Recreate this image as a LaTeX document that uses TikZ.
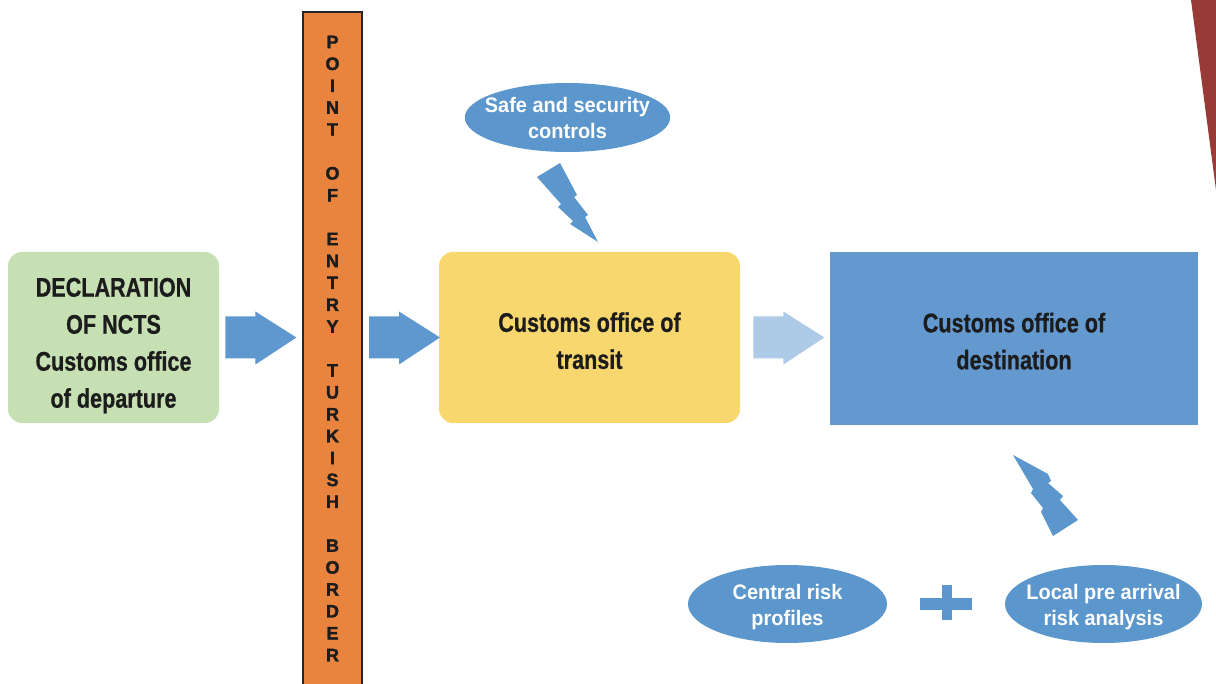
\documentclass[tikz,border=0pt]{standalone}
\usepackage{fontspec}
\newfontfamily\condfont[FakeStretch=0.8,FakeBold=0.6]{Liberation Sans}
\newfontfamily\ellfont[FakeStretch=0.95]{Liberation Sans}
\newfontfamily\barfont[FakeBold=1.8]{Liberation Sans}
\usetikzlibrary{shapes.geometric,calc}
\definecolor{boxgreen}{HTML}{C6E0B4}
\definecolor{boxyellow}{HTML}{F8D76E}
\definecolor{boxblue}{HTML}{6399CF}
\definecolor{ellblue}{HTML}{5B96CC}
\definecolor{arrowblue}{HTML}{5E98CE}
\definecolor{arrowlight}{HTML}{ADCBE7}
\definecolor{barorange}{HTML}{E9843F}
\definecolor{wedgered}{HTML}{983B36}
\definecolor{textdark}{HTML}{1C1C1C}
\begin{document}
\begin{tikzpicture}[x=0.5pt,y=-0.5pt,
  boxtext/.style={font=\condfont\bfseries\fontsize{13.5}{18.5}\selectfont, text=textdark, align=center, inner sep=0pt},
  greenbox/.style={boxtext, fill=boxgreen, rounded corners=7pt, minimum width=105.5pt, minimum height=85.5pt},
  yellowbox/.style={boxtext, fill=boxyellow, rounded corners=7pt, minimum width=150.5pt, minimum height=85.5pt},
  bluebox/.style={boxtext, fill=boxblue, minimum width=184pt, minimum height=86.5pt},
  ell/.style={ellipse, fill=ellblue, text=white, font=\ellfont\bfseries\fontsize{10.5}{13}\selectfont, align=center, inner xsep=-5pt, inner ysep=0pt},
  barstyle/.style={fill=barorange, draw=black!85, line width=1pt, minimum width=29.5pt, minimum height=336.5pt, inner sep=0pt,
     font=\barfont\bfseries\fontsize{9}{10.95}\selectfont, text=textdark, align=center},
  bolt/.style={fill=ellblue},
  blockarrow/.pic={\fill[#1] (0,-21) -- (30,-21) -- (30,-26) -- (71,0) -- (30,27) -- (30,21) -- (0,21) -- cycle;}
]
\useasboundingbox (0,0) rectangle (1216,684);

% red wedge at top right
\fill[wedgered] (1191,0) -- (1216,0) -- (1216,190) -- cycle;

% main boxes
\node[greenbox] (dep) at (113.5,337.5) {\rule{0pt}{17.5pt}DECLARATION\\OF NCTS\\Customs office\\of departure};
\node[barstyle] (border) at (332.5,348.5) {P\\O\\I\\N\\T\\[10.95pt]O\\F\\[10.95pt]E\\N\\T\\R\\Y\\[10.95pt]T\\U\\R\\K\\I\\S\\H\\[10.95pt]B\\O\\R\\D\\E\\R};
\node[yellowbox] (transit) at (589.5,337.5) {\rule{0pt}{13pt}Customs office of\\transit};
\node[bluebox] (dest) at (1014,338.5) {\rule{0pt}{12.5pt}Customs office of\\destination};

% ellipses
\node[ell, minimum width=102.5pt, minimum height=34.5pt] (safe) at (567.5,117.5) {Safe and security\\controls};
\node[ell, minimum width=99.5pt, minimum height=39pt] (central) at (787.5,604) {\rule{0pt}{11pt}Central risk\\profiles};
\node[ell, minimum width=98.5pt, minimum height=39pt] (local) at (1103.5,604) {\rule{0pt}{11pt}Local pre arrival\\risk analysis};

% block arrows between the boxes
\pic at ($(dep.east)+(6,0)$) {blockarrow=arrowblue};
\pic at ($(border.east |- dep.east)+(6,0)$) {blockarrow=arrowblue};
\pic at ($(transit.east)+(13,0)$) {blockarrow=arrowlight};

% lightning bolts
\fill[bolt] (537,177) -- (560,163) -- (577,195) -- (574,197) -- (588,215) -- (585,217) -- (598,242)
  -- (570,224) -- (573,221) -- (558,207) -- (561,204) -- cycle;
\fill[bolt] (1013,455) -- (1048,474) -- (1051,481) -- (1048,483) -- (1063,496) -- (1060,500) -- (1078,520)
  -- (1053,536) -- (1041,512) -- (1043,508) -- (1031,493) -- (1033,489) -- cycle;

% plus sign
\fill[ellblue] (920,598) rectangle (972,610);
\fill[ellblue] (942,585) rectangle (952,620);
\end{tikzpicture}
\end{document}
